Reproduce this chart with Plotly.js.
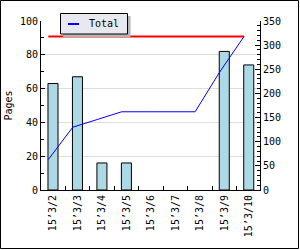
<!DOCTYPE html>
<html><head><meta charset="utf-8">
<script src="https://cdn.plot.ly/plotly-3.0.1.min.js"></script>
<style>html,body{margin:0;padding:0;background:#fff}#chart{width:300px;height:250px}</style>
</head><body><div id="chart"></div>
<script>
const categories = ["15’3/2","15’3/3","15’3/4","15’3/5","15’3/6","15’3/7","15’3/8","15’3/9","15’3/10"];
const pages = [63, 67, 16, 16, 0, 0, 0, 82, 74];
const total = [63, 130, 146, 162, 162, 162, 162, 244, 318];
const target = [318, 318, 318, 318, 318, 318, 318, 318, 318];
const seriesName = "Total";

const W = 300, H = 250;
const m = {l: 41, r: 40, t: 21, b: 60};
const pw = W - m.l - m.r, ph = H - m.t - m.b;
const px = x => (x - m.l) / pw;
const py = y => (H - m.b - y) / ph;
const font = {family: "DejaVu Sans Mono, Liberation Mono, monospace", size: 10, color: "#000000"};
const blue = "#0000ff";

const traces = [
  {type: "bar", x: categories, y: pages, xaxis: "x", yaxis: "y", width: 0.41,
   marker: {color: "#add8e6", line: {color: "#000", width: pages.map(v => v > 0 ? 1 : 0)}},
   showlegend: false, hoverinfo: "none"},
  {type: "scatter", mode: "lines", x: categories, y: target, xaxis: "x2", yaxis: "y2",
   line: {color: "#ff0000", width: 2}, showlegend: false},
  {type: "scatter", mode: "lines", x: categories, y: total, xaxis: "x2", yaxis: "y2", name: seriesName,
   line: {color: blue, width: 1}, showlegend: false}
];

const layout = {
  width: W, height: H, margin: m, paper_bgcolor: "#fff", plot_bgcolor: "#fff",
  font: font, showlegend: false, bargap: 0,
  xaxis: {type: "category", range: [-0.49, 8.46], showline: true, linecolor: "#000", linewidth: 1,
          ticks: "inside", tickson: "boundaries", ticklen: 4, tickcolor: "#000", tickangle: -90,
          showgrid: false, zeroline: false, tickfont: font, fixedrange: true},
  xaxis2: {type: "category", range: [-0.298, 8.652], overlaying: "x", anchor: "y", visible: false},
  yaxis: {range: [0, 100], dtick: 20, showline: true, linecolor: "#000", linewidth: 1,
          ticks: "inside", ticklen: 4, tickcolor: "#000", showgrid: true, gridcolor: "#dddddd", gridwidth: 1,
          zeroline: false, tickfont: font,
          minor: {dtick: 10, ticks: "inside", ticklen: 3, tickcolor: "#000", showgrid: false},
          title: {text: "Pages", font: font, standoff: 5}},
  yaxis2: {range: [0, 350], dtick: 50, overlaying: "y", side: "right", anchor: "x",
           showline: true, linecolor: "#000", linewidth: 1, ticks: "inside", ticklen: 5, tickcolor: "#000",
           showgrid: false, zeroline: false, tickfont: font,
           minor: {dtick: 10, ticks: "inside", ticklen: 3, tickcolor: "#000", showgrid: false}},
  shapes: [
    {type: "rect", xref: "paper", yref: "paper", x0: px(63), x1: px(130.5), y0: py(37.3), y1: py(16),
     fillcolor: "#b4b4b4", line: {width: 0}, layer: "above"},
    {type: "rect", xref: "paper", yref: "paper", x0: px(60.5), x1: px(127.5), y0: py(34), y1: py(13.5),
     fillcolor: "#e8e8f0", line: {color: "#000", width: 1}, layer: "above"},
    {type: "line", xref: "paper", yref: "paper", x0: px(68), x1: px(79), y0: py(24), y1: py(24),
     line: {color: blue, width: 2}, layer: "above"},
    {type: "rect", xref: "paper", yref: "paper", x0: px(0.5), x1: px(298.5), y0: py(248.5), y1: py(0.5),
     line: {color: "#000", width: 1}, fillcolor: "rgba(0,0,0,0)", layer: "above"}
  ],
  annotations: [
    {text: seriesName, xref: "paper", yref: "paper", x: px(87.5), y: py(24), xanchor: "left", yanchor: "middle",
     showarrow: false, font: font, borderpad: 0}
  ]
};

Plotly.newPlot("chart", traces, layout, {staticPlot: true, displayModeBar: false});
</script>
</body></html>
